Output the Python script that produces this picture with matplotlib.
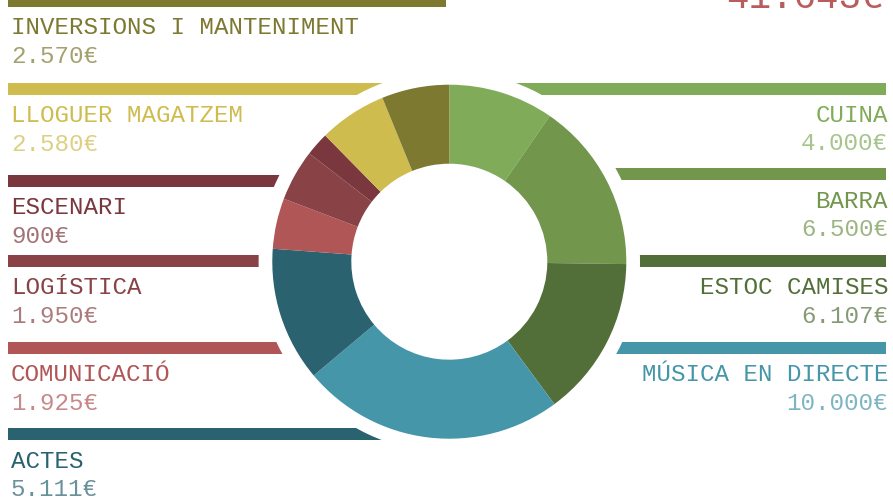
import matplotlib
matplotlib.use('Agg')
import matplotlib.pyplot as plt
from matplotlib.patches import Circle

# data, clockwise from the top of the ring
labels = ['CUINA', 'BARRA', 'ESTOC CAMISES', 'MÚSICA EN DIRECTE', 'ACTES',
          'COMUNICACIÓ', 'LOGÍSTICA', 'ESCENARI', 'LLOGUER MAGATZEM',
          'INVERSIONS I MANTENIMENT']
values = [4000, 6500, 6107, 10000, 5111, 1925, 1950, 900, 2580, 2570]
colors = ['#80ac5a', '#71964c', '#536f39', '#4696aa', '#2a6270',
          '#b05657', '#894346', '#7a383e', '#cfbc4e', '#7d7931']

# layout, in pixels from the top-left corner
side = ['R', 'R', 'R', 'R', 'L', 'L', 'L', 'L', 'L', 'L']
bar_y = [88.5, 174, 261, 347.5, 434, 347.5, 261, 181, 89, 1]

W, H = 893, 500
cx, cy = 449.3, 261.7
r_out, r_in, r_gap = 177, 98, 190

def fmt(v):
    return f"{v:,}".replace(',', '.') + '€'

fig = plt.figure(figsize=(W / 100, H / 100), dpi=100)
ax = fig.add_axes([0, 0, 1, 1])

# bars behind the ring
for s, y, c in zip(side, bar_y, colors):
    if s == 'L':
        ax.barh(y, 446 - 8, left=8, height=12, color=c, zorder=1)
    else:
        ax.barh(y, 886 - 452, left=452, height=12, color=c, zorder=1)

ax.add_patch(Circle((cx, cy), r_gap, color='white', zorder=2))

ax.pie(values, colors=colors, startangle=-90, counterclock=True,
       radius=r_out, center=(cx, cy),
       wedgeprops=dict(width=r_out - r_in, linewidth=0, zorder=3))

font = 'Liberation Mono'
for lab, v, s, y, c in zip(labels, values, side, bar_y, colors):
    if s == 'L':
        x, ha = 11, 'left'
    else:
        x, ha = 888, 'right'
    ax.text(x, y + 33.5, lab, color=c, fontsize=17.4, family=font,
            ha=ha, va='baseline', zorder=4)
    ax.text(x, y + 62, fmt(v), color=c, alpha=0.7, fontsize=17.4,
            family=font, ha=ha, va='baseline', zorder=4)

# total, mostly cut off by the top edge
ax.text(884, 8.5, fmt(sum(values)), color='#b95c5c', fontsize=27,
        family=font, ha='right', va='baseline', zorder=4)

ax.set_xlim(0, W)
ax.set_ylim(H, 0)
ax.set_aspect('equal')
ax.axis('off')

fig.savefig('out.png', dpi=100, facecolor='white')
